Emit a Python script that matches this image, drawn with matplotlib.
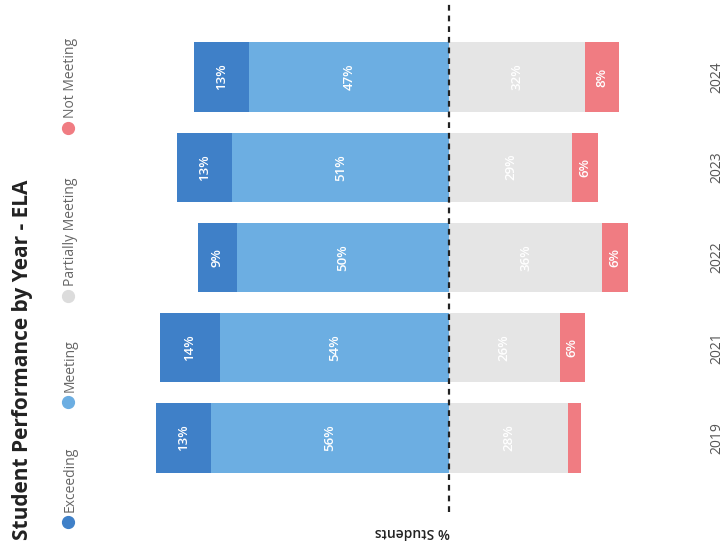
import numpy as np
import matplotlib
matplotlib.use("Agg")
import matplotlib.pyplot as plt
from matplotlib.lines import Line2D
import matplotlib.transforms as mtransforms

plt.rcParams['font.family'] = ['Open Sans', 'DejaVu Sans']

years = ["2024", "2023", "2022", "2021", "2019"]
exceeding = [13, 13, 9, 14, 13]
meeting = [47, 51, 50, 54, 56]
partially = [32, 29, 36, 26, 28]
not_meeting = [8, 6, 6, 6, 3]

categories = ["Exceeding", "Meeting", "Partially Meeting", "Not Meeting"]
colors = ["#3f80c8", "#6caee2", "#e5e5e5", "#f07c82"]
dot_colors = ["#3f80c8", "#6caee2", "#dcdcdc", "#f07c82"]

W, H = 726, 550
fig = plt.figure(figsize=(W / 100, H / 100), dpi=100)
ax = fig.add_axes([0, 0, 1, 1])

pos = np.arange(len(years))
h = 0.765
ex = np.array(exceeding)
me = np.array(meeting)
pa = np.array(partially)
nm = np.array(not_meeting)

ax.barh(pos, -me, height=h, color=colors[1])
ax.barh(pos, -ex, left=-me, height=h, color=colors[0])
ax.barh(pos, pa, height=h, color=colors[2])
ax.barh(pos, nm, left=pa, height=h, color=colors[3])

def lab(x, y, v):
    ax.text(x, y, f"{v}%", rotation=90, ha="center", va="center",
            color="white", fontsize=9.5, fontweight="semibold")

for i in range(len(years)):
    lab(-me[i] - ex[i] / 2, pos[i], ex[i])
    lab(-me[i] / 2, pos[i], me[i])
    lab(pa[i] / 2, pos[i], pa[i])
    if nm[i] >= 5:
        lab(pa[i] + nm[i] / 2, pos[i], nm[i])

# pixel scale: 4.25 px per percent, zero at x=449
ppp = 4.25
ax.set_xlim(-449 / ppp, (W - 449) / ppp)
step = 90.25
top = -77 / step
ax.set_ylim(top + H / step, top)
ax.axis("off")

ax.axvline(0, ymin=1 - 512 / H, ymax=1, color="#222222", lw=1.6,
           linestyle=(0, (2.6, 2.2)))

# year labels on the right
trans = mtransforms.blended_transform_factory(ax.transAxes, ax.transData)
for i, yr in enumerate(years):
    ax.text(717 / W, pos[i], yr, transform=trans, rotation=90, ha="center",
            va="center", fontsize=10, color="#555555")

def fx(px):
    return px / W

def fy(py):
    return 1 - py / H

# title
fig.text(fx(23), fy(540), "Student Performance by Year - ELA", rotation=90,
         ha="center", va="bottom", fontsize=15, fontweight="bold", color="#222222")

# legend
legend_y = [522, 402, 296, 128]
for name, c, ly in zip(categories, dot_colors, legend_y):
    fig.add_artist(Line2D([fx(68)], [fy(ly)], marker="o", markersize=8.5,
                          color=c, linestyle="none", transform=fig.transFigure))
    fig.text(fx(70), fy(ly - 10), name, rotation=90, ha="center", va="bottom",
             fontsize=10, color="#666666")

# axis label (upside down as in the reference)
fig.text(fx(450), fy(532), "% Students", rotation=180, ha="right", va="center",
         fontsize=10, fontweight="semibold", color="#222222")

fig.savefig("out.png", dpi=100)
